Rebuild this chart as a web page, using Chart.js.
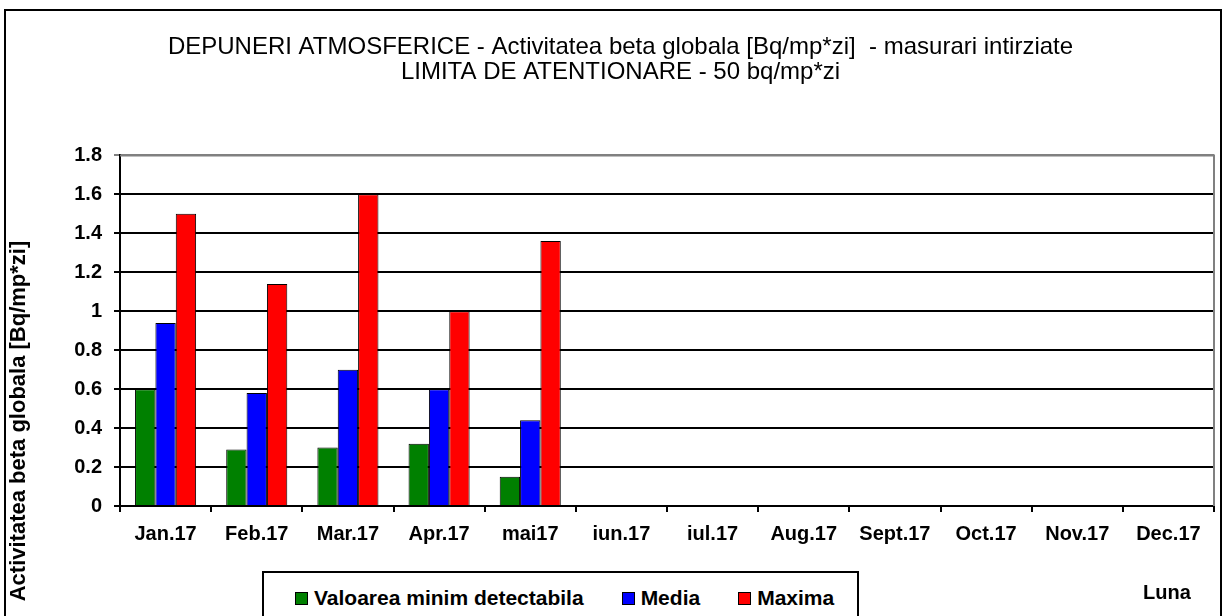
<!DOCTYPE html>
<html lang="ro">
<head>
    <meta charset="UTF-8">
    <title>Depuneri atmosferice - activitatea beta globala</title>
    <script src="https://cdn.jsdelivr.net/npm/chart.js"></script>
    <style>
        html, body { margin: 0; padding: 0; background: #fff; overflow: hidden; }
        .page { position: relative; width: 1225px; height: 616px; overflow: hidden; }
        .frame {
            position: absolute; left: 4px; top: 9px; width: 1218px; height: 640px;
            border: 2px solid #000; box-sizing: border-box; pointer-events: none;
        }
        canvas { position: absolute; left: 0; top: 0; }
        .legendBox {
            position: absolute; left: 262px; top: 571px; width: 597px; height: 70px;
            border: 2px solid #000; box-sizing: border-box; background: #fff;
            display: flex; align-items: flex-start; padding: 13px 0 0 31px;
            font-family: "Liberation Sans", Arial, sans-serif; font-weight: bold; font-size: 21px;
            white-space: nowrap;
        }
        .legendItem { display: flex; align-items: center; margin-right: 38px; white-space: nowrap; }
        .legendItem i {
            display: inline-block; width: 11px; height: 11px; border: 1px solid #000;
            margin-right: 6px; flex: none;
        }
    </style>
</head>
<body>
    <div class="page">
        <canvas id="chart" width="1225" height="616"></canvas>
        <div class="frame"></div>
        <div class="legendBox" id="legend"></div>
    </div>
<script>
    const months = ["Jan.17", "Feb.17", "Mar.17", "Apr.17", "mai17", "iun.17", "iul.17", "Aug.17", "Sept.17", "Oct.17", "Nov.17", "Dec.17"];
    const minDetectabil = [0.60, 0.29, 0.30, 0.32, 0.15, null, null, null, null, null, null, null];
    const media = [0.94, 0.58, 0.70, 0.60, 0.44, null, null, null, null, null, null, null];
    const maxima = [1.50, 1.14, 1.60, 1.00, 1.36, null, null, null, null, null, null, null];

    const seriesNames = ["Valoarea minim detectabila", "Media", "Maxima"];
    const seriesColors = ["#008000", "#0000ff", "#ff0000"];

    const titleLines = [
        "DEPUNERI ATMOSFERICE - Activitatea beta globala [Bq/mp*zi]  - masurari intirziate",
        "LIMITA DE ATENTIONARE - 50 bq/mp*zi"
    ];
    const yTitle = "Activitatea beta globala [Bq/mp*zi]";
    const xTitle = "Luna";

    const FONT = '"Liberation Sans", Arial, sans-serif';

    // axis titles sit away from the default spots in the original, so draw them by hand
    const axisTitles = {
        id: 'axisTitles',
        afterDraw(chart) {
            const ctx = chart.ctx;
            ctx.save();
            ctx.fillStyle = '#000';
            ctx.textAlign = 'center';
            ctx.textBaseline = 'middle';
            ctx.font = 'bold 20px ' + FONT;
            ctx.fillText(xTitle, 1167, 593);
            ctx.translate(19, 421);
            ctx.rotate(-Math.PI / 2);
            ctx.font = 'bold 22px ' + FONT;
            ctx.fillText(yTitle, 0, 0);
            ctx.restore();
        }
    };

    // grey plot border at the top and right
    const plotBorder = {
        id: 'plotBorder',
        afterDatasetsDraw(chart) {
            const a = chart.chartArea, ctx = chart.ctx;
            ctx.save();
            ctx.strokeStyle = '#808080';
            ctx.lineWidth = 2;
            ctx.beginPath();
            ctx.moveTo(a.left, a.top);
            ctx.lineTo(a.right, a.top);
            ctx.lineTo(a.right, a.bottom);
            ctx.stroke();
            ctx.restore();
        }
    };

    const datasets = [minDetectabil, media, maxima].map((vals, i) => ({
        label: seriesNames[i],
        data: vals,
        backgroundColor: seriesColors[i],
        borderColor: '#000',
        borderWidth: 1,
        categoryPercentage: 0.67,
        barPercentage: 1.0
    }));

    const ctx = document.getElementById('chart').getContext('2d');
    const chart = new Chart(ctx, {
        type: 'bar',
        data: { labels: months, datasets: datasets },
        options: {
            responsive: false,
            animation: false,
            layout: { padding: { left: 27, right: 11, top: 0, bottom: 10 } },
            plugins: {
                legend: { display: false },
                tooltip: { enabled: false },
                title: {
                    display: true,
                    text: titleLines,
                    color: '#000',
                    font: { family: FONT, size: 24, weight: 'normal', lineHeight: 1.05 },
                    padding: { top: 35, bottom: 70 }
                }
            },
            scales: {
                x: {
                    afterFit: s => { s.height = 100; },
                    grid: { display: true, drawOnChartArea: false, color: '#000', lineWidth: 2, tickLength: 6, offset: true },
                    border: { color: '#000', width: 2 },
                    ticks: {
                        color: '#000', maxRotation: 0, autoSkip: false, padding: 10,
                        font: { family: FONT, size: 20, weight: 'bold', lineHeight: 1.2 }
                    }
                },
                y: {
                    min: 0,
                    max: 1.8,
                    afterFit: s => { s.width = 93; },
                    ticks: {
                        stepSize: 0.2, color: '#000', padding: 12,
                        font: { family: FONT, size: 20, weight: 'bold' },
                        callback: v => String(Number(v.toFixed(1)))
                    },
                    grid: {
                        color: c => (c.tick && c.tick.value >= 1.79 ? '#808080' : '#000'),
                        lineWidth: 2, tickLength: 6
                    },
                    border: { color: '#000', width: 2 }
                }
            }
        },
        plugins: [axisTitles, plotBorder]
    });

    // legend box built from the same series arrays
    const legend = document.getElementById('legend');
    seriesNames.forEach((name, i) => {
        const item = document.createElement('span');
        item.className = 'legendItem';
        item.innerHTML = `<i style="background:${seriesColors[i]}"></i>${name}`;
        legend.appendChild(item);
    });
</script>
</body>
</html>
